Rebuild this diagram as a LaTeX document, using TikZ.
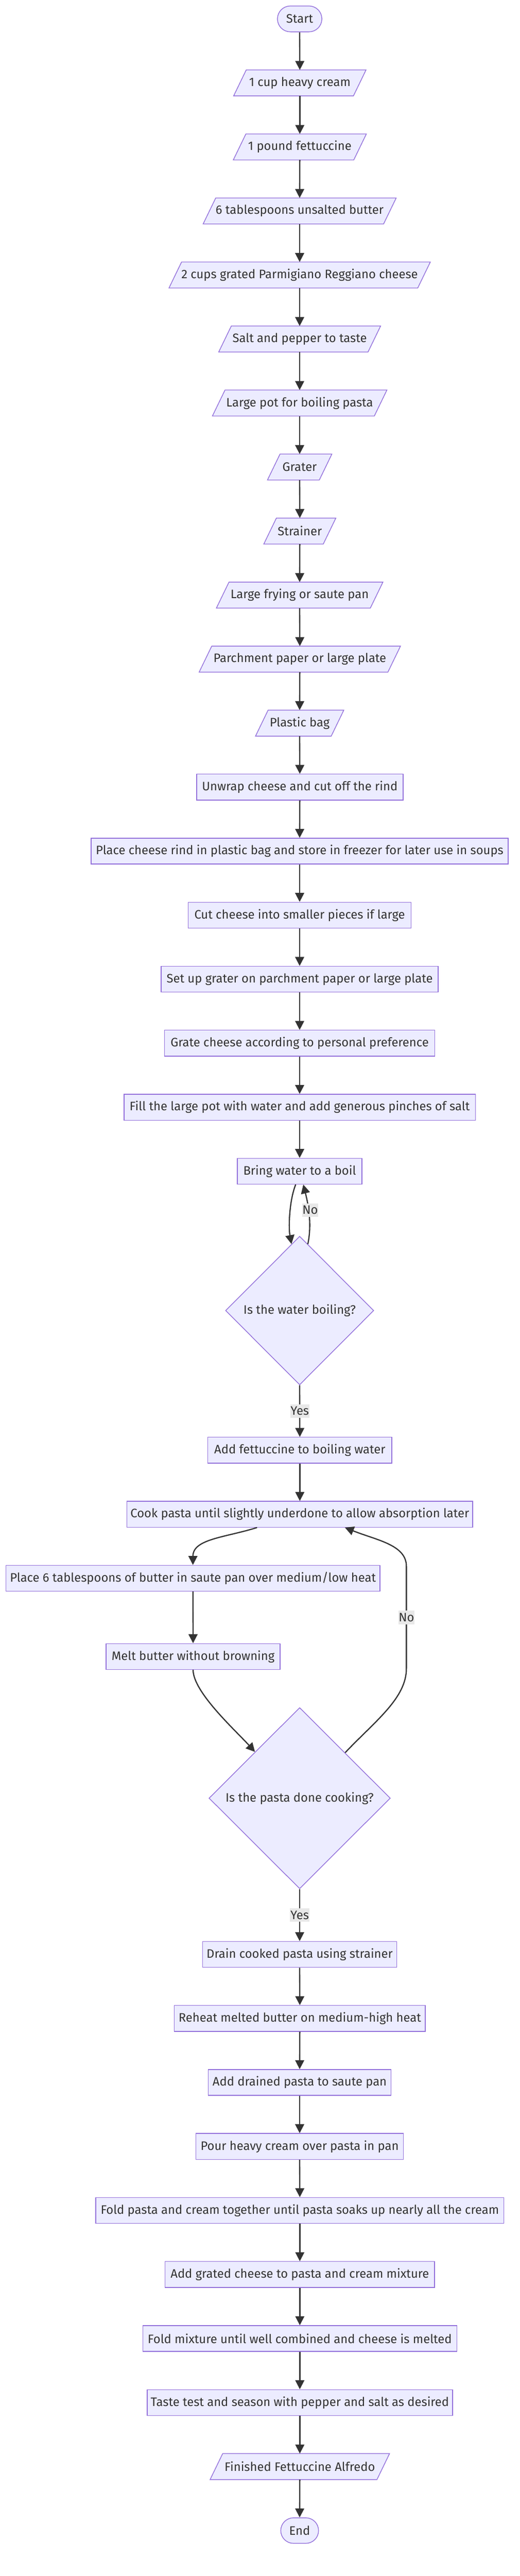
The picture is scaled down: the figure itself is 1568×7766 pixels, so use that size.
\documentclass[tikz,border=0pt]{standalone}
\usepackage{fontspec}
\setmainfont{Fira Sans}
\usetikzlibrary{arrows.meta,shapes.geometric,backgrounds,calc}
\definecolor{nfill}{HTML}{ECECFF}
\definecolor{nline}{HTML}{9370DB}
\definecolor{ink}{HTML}{333333}
\definecolor{lblbg}{HTML}{E8E8E8}
\tikzset{
  base/.style={inner sep=0pt, minimum height=78pt, text=ink, font=\fontsize{37}{42}\selectfont},
  procbox/.style={base, rectangle, draw=nline, fill=nfill, line width=2.2pt},
  iobox/.style={base, rectangle},
  termbox/.style={base, rectangle, draw=nline, fill=nfill, line width=2.2pt},
  decbox/.style={base, diamond, aspect=1, draw=nline, fill=nfill, line width=2.2pt},
  flow/.style={draw=ink, line width=3.6pt, -{Triangle[length=27pt,width=27pt]}},
  lbl/.style={fill=lblbg, text=ink, inner sep=1pt, minimum height=41pt, font=\fontsize{37}{42}\selectfont},
  iofill/.style={draw=nline, fill=nfill, line width=2.2pt, line join=miter}
}
\begin{document}
\begin{tikzpicture}[x=1pt,y=-1pt]
\useasboundingbox (0,0) rectangle (1568,7766);

\node[termbox, minimum width=134pt, rounded corners=39pt] (start) at (904,57) {Start};
\node[iobox, minimum width=399pt] (i1) at (904.5,250) {1 cup heavy cream};
\node[iobox, minimum width=401pt] (i2) at (904.5,443) {1 pound fettuccine};
\node[iobox, minimum width=582pt] (i3) at (904,636) {6 tablespoons unsalted butter};
\node[iobox, minimum width=788pt] (i4) at (904,829) {2 cups grated Parmigiano Reggiano cheese};
\node[iobox, minimum width=488pt] (i5) at (904,1022) {Salt and pepper to taste};
\node[iobox, minimum width=526pt] (i6) at (904,1215) {Large pot for boiling pasta};
\node[iobox, minimum width=194pt] (i7) at (904,1408) {Grater};
\node[iobox, minimum width=217pt] (i8) at (904.5,1601) {Strainer};
\node[iobox, minimum width=502pt] (i9) at (904,1794) {Large frying or saute pan};
\node[iobox, minimum width=607pt] (i10) at (904.5,1987) {Parchment paper or large plate};
\node[iobox, minimum width=266pt] (i11) at (904,2180) {Plastic bag};

\node[procbox, minimum width=623pt] (s1) at (904.5,2373) {Unwrap cheese and cut off the rind};
\node[procbox, minimum width=1258pt] (s2) at (904,2566) {Place cheese rind in plastic bag and store in freezer for later use in soups};
\node[procbox, minimum width=672pt] (s3) at (904,2759) {Cut cheese into smaller pieces if large};
\node[procbox, minimum width=836pt] (s4) at (904,2952) {Set up grater on parchment paper or large plate};
\node[procbox, minimum width=816pt] (s5) at (904,3145) {Grate cheese according to personal preference};
\node[procbox, minimum width=1060pt] (s6) at (904,3338) {Fill the large pot with water and add generous pinches of salt};
\node[procbox, minimum width=376pt] (s7) at (904,3531) {Bring water to a boil};
\node[decbox, minimum width=447pt, minimum height=448pt] (d1) at (904,3951) {Is the water boiling?};
\node[procbox, minimum width=555pt] (s8) at (904.5,4372) {Add fettuccine to boiling water};
\node[procbox, minimum width=1043pt] (s9) at (904.5,4565) {Cook pasta until slightly underdone to allow absorption later};
\node[procbox, minimum width=1128pt] (s10) at (582,4758) {Place 6 tablespoons of butter in saute pan over medium/low heat};
\node[procbox, minimum width=525pt] (s11) at (582.5,4994) {Melt butter without browning};
\node[decbox, minimum width=547pt, minimum height=546pt] (d2) at (904,5421) {Is the pasta done cooking?};
\node[procbox, minimum width=586pt] (s12) at (904,5892) {Drain cooked pasta using strainer};
\node[procbox, minimum width=757pt] (s13) at (904.5,6085) {Reheat melted butter on medium-high heat};
\node[procbox, minimum width=552pt] (s14) at (904,6278) {Add drained pasta to saute pan};
\node[procbox, minimum width=626pt] (s15) at (904,6471) {Pour heavy cream over pasta in pan};
\node[procbox, minimum width=1231pt] (s16) at (904.5,6664) {Fold pasta and cream together until pasta soaks up nearly all the cream};
\node[procbox, minimum width=813pt] (s17) at (904.5,6857) {Add grated cheese to pasta and cream mixture};
\node[procbox, minimum width=947pt] (s18) at (904.5,7050) {Fold mixture until well combined and cheese is melted};
\node[procbox, minimum width=921pt] (s19) at (904.5,7243) {Taste test and season with pepper and salt as desired};
\node[iobox, minimum width=541pt] (fin) at (904.5,7436) {Finished Fettuccine Alfredo};
\node[termbox, minimum width=114pt, minimum height=77pt, rounded corners=38.5pt] (end) at (904,7629) {End};

\begin{scope}[on background layer]
\foreach \n in {i1,i2,i3,i4,i5,i6,i7,i8,i9,i10,i11,fin}
  \filldraw[iofill] (\n.south west) -- ([xshift=38pt]\n.north west) -- (\n.north east) -- ([xshift=-38pt]\n.south east) -- cycle;
\end{scope}

% straight connectors
\foreach \a/\b in {start/i1,i1/i2,i2/i3,i3/i4,i4/i5,i5/i6,i6/i7,i7/i8,i8/i9,i9/i10,i10/i11,i11/s1,
  s1/s2,s2/s3,s3/s4,s4/s5,s5/s6,s6/s7,s8/s9,s10/s11,s12/s13,s13/s14,s14/s15,s15/s16,s16/s17,s17/s18,s18/s19,s19/fin,fin/end}
  \draw[flow] (\a.south) -- (\b.north);

% water loop
\draw[flow] ([xshift=-12pt]s7.south) .. controls +(-20,50) and +(-9,-49) .. (d1.97);
\draw[flow] (d1.83) .. controls +(13,-60) and +(15,60) .. ([xshift=11pt]s7.south) node[lbl, pos=0.57, xshift=5pt] {No};
\draw[flow] (d1.south) -- node[lbl] {Yes} (s8.north);

% pasta loop
\draw[flow] ([xshift=-129pt]s9.south) .. controls +(-95,30) and +(0,-79) .. (s10.north);
\draw[flow] (s11.south) .. controls +(0,67) and +(-60,-66) .. (d2.134);
\coordinate (w1) at (1226,5030);
\coordinate (w2) at (1226,4722);
\draw[flow] (d2.45) .. controls +(90,-95) and +(0,90) .. (w1) -- node[lbl] {No} (w2) .. controls +(0,-65) and +(95,38) .. ([xshift=136pt]s9.south);
\draw[flow] (d2.south) -- node[lbl] {Yes} (s12.north);
\end{tikzpicture}
\end{document}
